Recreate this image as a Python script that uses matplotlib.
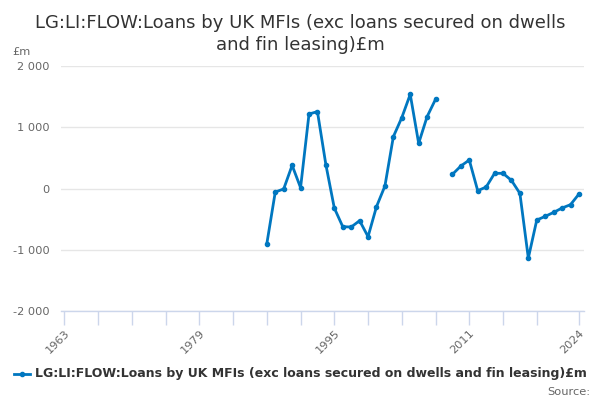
import matplotlib
matplotlib.use("Agg")
import matplotlib.pyplot as plt
import numpy as np

years = [1987, 1988, 1989, 1990, 1991, 1992, 1993, 1994, 1995, 1996, 1997, 1998,
         1999, 2000, 2001, 2002, 2003, 2004, 2005, 2006, 2007, 2008,
         2009, 2010, 2011, 2012, 2013, 2014, 2015, 2016, 2017, 2018, 2019,
         2020, 2021, 2022, 2023, 2024]
values = [-898, -55, -5, 380, 16, 1217, 1256, 391, -316, -620, -626, -522,
          -783, -294, 43, 848, 1158, 1538, 739, 1174, 1457, np.nan,
          233, 369, 467, -33, 26, 250, 250, 135, -77, -1132, -512,
          -452, -387, -316, -261, -88]

title = "LG:LI:FLOW:Loans by UK MFIs (exc loans secured on dwells\nand fin leasing)£m"
series_name = "LG:LI:FLOW:Loans by UK MFIs (exc loans secured on dwells and fin leasing)£m"
y_ticks = [-2000, -1000, 0, 1000, 2000]
x_minor_ticks = list(range(1963, 2020, 4)) + [2024]
x_labels = [1963, 1979, 1995, 2011, 2024]

color = "#0077c0"
fig = plt.figure(figsize=(6, 4), dpi=100)
ax = fig.add_axes([61/600, 1-311.3/400, (584-61)/600, (311.3-66)/400])

ax.plot(years, values, color=color, lw=2, marker="o", ms=3, zorder=3)
ax.set_xlim(1962.6, 2024.6)
ax.set_ylim(-2000, 2000)

ax.set_yticks(y_ticks)
ax.set_yticklabels([f"{v:,}".replace(",", " ") for v in y_ticks], color="#666666", fontsize=8.2)
ax.tick_params(axis="y", length=0, pad=8)
ax.grid(axis="y", color="#e6e6e6", lw=1)
ax.set_axisbelow(True)

ax.set_xticks(x_minor_ticks)
ax.set_xticklabels([str(t) if t in x_labels else "" for t in x_minor_ticks],
                   rotation=45, ha="right", rotation_mode="anchor",
                   color="#666666", fontsize=8.2)
ax.tick_params(axis="x", length=10, color="#ccd6eb", width=1, pad=2)

for s in ["top", "right", "left"]:
    ax.spines[s].set_visible(False)
ax.spines["bottom"].set_color("#ccd6eb")
ax.spines["bottom"].set_linewidth(1)

fig.text(0.5, 1-34/400, title, ha="center", va="center", fontsize=12.95,
         color="#333333", linespacing=1.3)
fig.text(12/600, 1-52/400, "£m", ha="left", va="center", fontsize=8.2, color="#666666")

# legend
ly = 1-374/400
fig.lines.append(plt.Line2D([14/600, 30/600], [ly, ly],
                            transform=fig.transFigure, color=color, lw=2))
fig.lines.append(plt.Line2D([22/600], [ly], transform=fig.transFigure,
                            color=color, marker="o", ms=3, lw=0))
fig.text(35/600, ly, series_name, ha="left", va="center", fontsize=9,
         fontweight="bold", color="#333333")
fig.text(590/600, 1-392/400, "Source:", ha="right", va="center", fontsize=8.2,
         color="#666666")

fig.savefig("out.png", dpi=100)
